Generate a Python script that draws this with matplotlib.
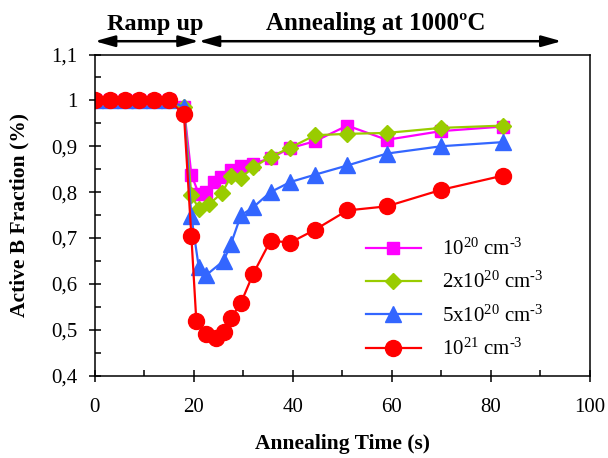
import matplotlib
matplotlib.use("Agg")
import matplotlib.pyplot as plt
from matplotlib.ticker import MultipleLocator, FuncFormatter

plt.rcParams['font.family'] = ['Liberation Serif', 'DejaVu Serif']
plt.rcParams['mathtext.fontset'] = 'custom'
plt.rcParams['mathtext.rm'] = 'Liberation Serif'
plt.rcParams['mathtext.it'] = 'Liberation Serif:italic'
plt.rcParams['mathtext.bf'] = 'Liberation Serif:bold'

# Active boron fraction vs. annealing time for four doping levels
t_1e20 = [0, 3, 6, 9, 12, 15, 18, 19.5, 21, 22.5, 24, 25.5, 27.5, 29.5, 32, 35.5, 39.5, 44.5, 51, 59, 70, 82.5]
f_1e20 = [1, 1, 1, 1, 1, 1, 0.985, 0.838, 0.796, 0.80, 0.822, 0.832, 0.848, 0.856, 0.862, 0.874, 0.896, 0.911, 0.945, 0.914, 0.933, 0.943]

t_2e20 = [0, 3, 6, 9, 12, 15, 18, 19.5, 21, 23, 25.7, 27.5, 29.5, 32, 35.5, 39.5, 44.5, 51, 59, 70, 82.5]
f_2e20 = [1, 1, 1, 1, 1, 1, 0.985, 0.793, 0.764, 0.773, 0.798, 0.835, 0.831, 0.854, 0.877, 0.897, 0.924, 0.927, 0.929, 0.940, 0.945]

t_5e20 = [0, 3, 6, 9, 12, 15, 18, 19.5, 21, 22.5, 26, 27.5, 29.5, 32, 35.5, 39.5, 44.5, 51, 59, 70, 82.5]
f_5e20 = [1, 1, 1, 1, 1, 1, 0.985, 0.747, 0.636, 0.619, 0.65, 0.687, 0.749, 0.767, 0.80, 0.822, 0.838, 0.858, 0.884, 0.90, 0.909]

t_1e21 = [0, 3, 6, 9, 12, 15, 18, 19.5, 20.5, 22.5, 24.5, 26, 27.5, 29.5, 32, 35.5, 39.5, 44.5, 51, 59, 70, 82.5]
f_1e21 = [1, 1, 1, 1, 1, 1, 0.97, 0.704, 0.52, 0.49, 0.482, 0.496, 0.526, 0.558, 0.622, 0.694, 0.69, 0.718, 0.76, 0.769, 0.805, 0.836]

labels = ["10$^{20}$ cm$^{\u20103}$", "2x10$^{20}$ cm$^{\u20103}$",
          "5x10$^{20}$ cm$^{\u20103}$", "10$^{21}$ cm$^{\u20103}$"]

fig = plt.figure(figsize=(6.08, 4.58), dpi=100)
ax = fig.add_axes([0.156, 0.180, 0.814, 0.701])

ax.plot(t_1e20, f_1e20, color='#FF00FF', lw=1.6, marker='s', ms=9, label=labels[0])
ax.plot(t_2e20, f_2e20, color='#99CC00', lw=1.6, marker='D', ms=8.5, label=labels[1])
ax.plot(t_5e20, f_5e20, color='#3366FF', lw=1.6, marker='^', ms=11.5, label=labels[2])
ax.plot(t_1e21, f_1e21, color='#FF0000', lw=1.6, marker='o', ms=11.5, label=labels[3])

ax.set_xlim(0, 100)
ax.set_ylim(0.4, 1.1)
ax.xaxis.set_major_locator(MultipleLocator(20))
ax.xaxis.set_minor_locator(MultipleLocator(10))
ax.yaxis.set_major_locator(MultipleLocator(0.1))
ax.yaxis.set_minor_locator(MultipleLocator(0.05))


def comma_fmt(v, pos):
    s = f"{v:.1f}"
    if s.endswith(".0"):
        s = s[:-2]
    return s.replace(".", ",")


ax.yaxis.set_major_formatter(FuncFormatter(comma_fmt))
ax.tick_params(which='major', direction='inout', length=9, width=1.1, labelsize=15)
ax.tick_params(which='minor', direction='in', length=4, width=1.1)
ax.tick_params(axis='x', which='major', pad=12)
ax.tick_params(axis='y', which='major', pad=8)
for s in ax.spines.values():
    s.set_linewidth(1.1)

ax.set_xlabel("Annealing Time (s)", fontsize=15.5, fontweight='bold', labelpad=12)
ax.set_ylabel("Active B Fraction (%)", fontsize=15.5, fontweight='bold', labelpad=16)

leg = ax.legend(loc='upper left', bbox_to_anchor=(0.547, 0.426), frameon=False,
                fontsize=15, handlelength=2.65, handletextpad=1.0, labelspacing=0.58,
                borderpad=0, borderaxespad=0)

# Phase markers above the plot
arrow_kw = dict(arrowstyle='<|-|>,head_length=1.0,head_width=0.28', color='black', lw=1.8,
                mutation_scale=12, shrinkA=0, shrinkB=0)
for x0, x1 in [(0, 21), (21, 94.3)]:
    ax.annotate("", xy=(x0, 1.0414), xytext=(x1, 1.0414), xycoords=('data', 'axes fraction'),
                textcoords=('data', 'axes fraction'), annotation_clip=False,
                arrowprops=arrow_kw)
ax.text(12.3, 1.0756, "Ramp up", transform=ax.get_xaxis_transform(), ha='center', va='baseline',
        fontsize=17.5, fontweight='bold')
ax.text(56.8, 1.0756, "Annealing at 1000ºC", transform=ax.get_xaxis_transform(), ha='center',
        va='baseline', fontsize=18, fontweight='bold')

fig.savefig("out.png", dpi=100)
